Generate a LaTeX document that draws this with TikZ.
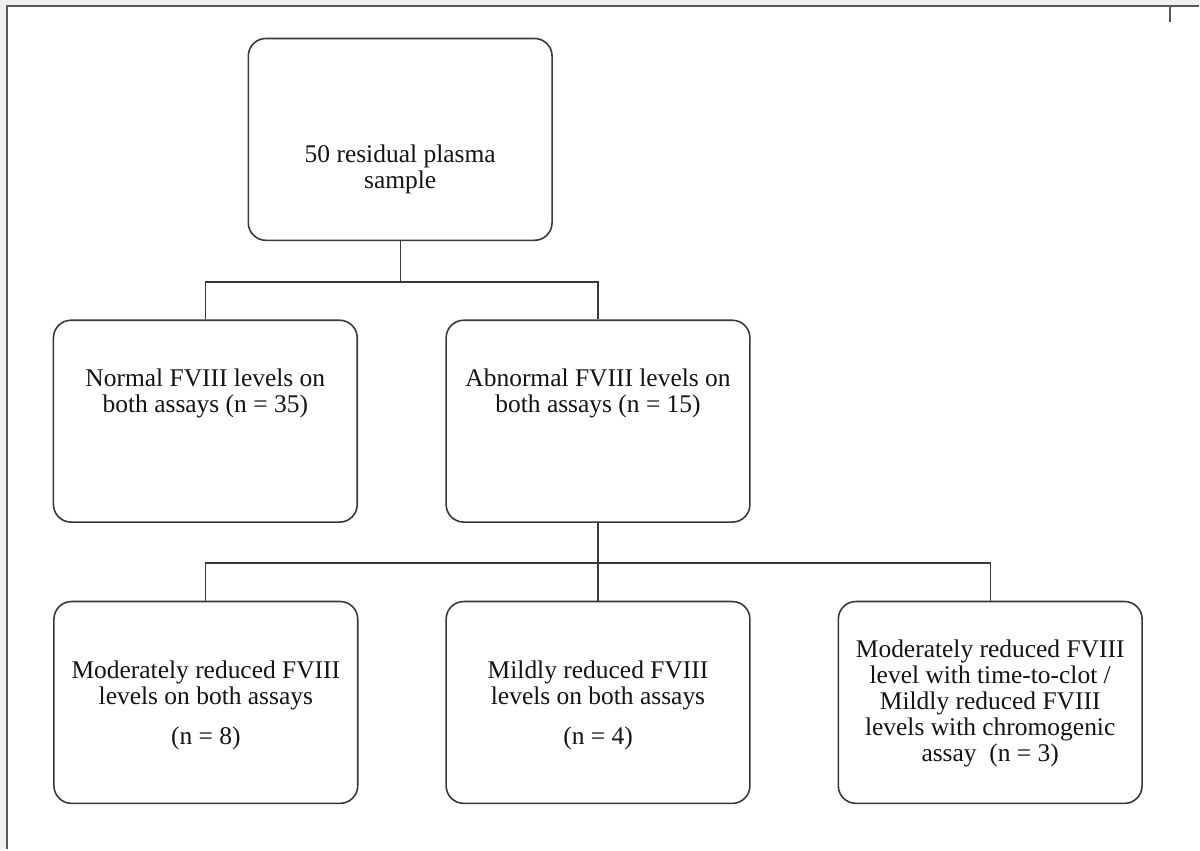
\documentclass[tikz,border=0pt]{standalone}
\usepackage{fontspec}
\setmainfont{Liberation Serif}
\usepackage{tikz}
\usetikzlibrary{positioning, calc}
\colorlet{cEdge}{black!78}
\colorlet{cPage}{black!6}

\begin{document}
\begin{tikzpicture}[
  x=1cm, y=1cm,
  box/.style={rounded corners=10pt, line width=0.9pt, draw=cEdge,
              fill=white, anchor=center, inner sep=0pt},
  txt/.style={font=\fontsize{14.5pt}{14.8pt}\selectfont, text=black!92,
              align=center, inner sep=0pt, anchor=center},
  link/.style={line width=0.75pt, draw=cEdge},
  frame/.style={line width=1.1pt, draw=black!65},
]

% =========================================================================
% Page: light grey margin, white sheet, frame on top and left edge.
% 1px of the target = 0.02cm, so the picture is 24cm x 17cm.
% =========================================================================
\fill[cPage] (0,0) rectangle (24,-17);
\fill[white] (0.14,-0.12) rectangle (24,-17);
\draw[frame] (0.14,-17) -- (0.14,-0.12) -- (24,-0.12);
\draw[frame] (23.42,-0.12) -- (23.42,-0.44);
\useasboundingbox (0,0) rectangle (24,-17);

\def\Bw{6.08} \def\Bh{4.04}

% ---- level 0 -------------------------------------------------------------
\node[box, minimum width=\Bw cm, minimum height=\Bh cm] (top) at (8.01,-2.79) {};
\node[txt] (toptxt) at (8.01,-3.39) {50 residual plasma\\sample};

% ---- level 1 -------------------------------------------------------------
\node[box, minimum width=\Bw cm, minimum height=\Bh cm] (nrm) at (4.11,-8.43) {};
\node[box, minimum width=\Bw cm, minimum height=\Bh cm] (abn) at (11.97,-8.43) {};
\node[txt] (nrmtxt) at (4.11,-7.88) {Normal FVIII levels on\\both assays (n = 35)};
\node[txt] (abntxt) at (11.97,-7.88) {Abnormal FVIII levels on\\both assays (n = 15)};

% ---- level 2 -------------------------------------------------------------
\node[box, minimum width=\Bw cm, minimum height=\Bh cm] (b1) at (4.12,-14.06) {};
\node[box, minimum width=\Bw cm, minimum height=\Bh cm] (b2) at (11.97,-14.06) {};
\node[box, minimum width=\Bw cm, minimum height=\Bh cm] (b3) at (19.82,-14.06) {};
\node[txt] (b1txt) at (4.12,-14.12)
  {Moderately reduced FVIII\\levels on both assays\\[0.28cm](n = 8)};
\node[txt] (b2txt) at (11.97,-14.12)
  {Mildly reduced FVIII\\levels on both assays\\[0.28cm](n = 4)};
\node[txt] (b3txt) at (19.82,-14.08)
  {Moderately reduced FVIII\\level with time-to-clot /\\Mildly reduced FVIII\\
   levels with chromogenic\\assay\ \ (n = 3)};

% =========================================================================
% Connectors: stem down to a junction, then fork to the children
% =========================================================================
\draw[link] (top.south) -- ++(0,-0.82) coordinate (j1);
\draw[link] (nrm.north) |- (j1) -| (abn.north);

\draw[link, line width=1.2pt] (abn.south) -- ++(0,-0.80) coordinate (j2);
\draw[link] (b1.north) |- (j2) -| (b3.north);
\draw[link] (j2) -- (b2.north);

\end{tikzpicture}
\end{document}
